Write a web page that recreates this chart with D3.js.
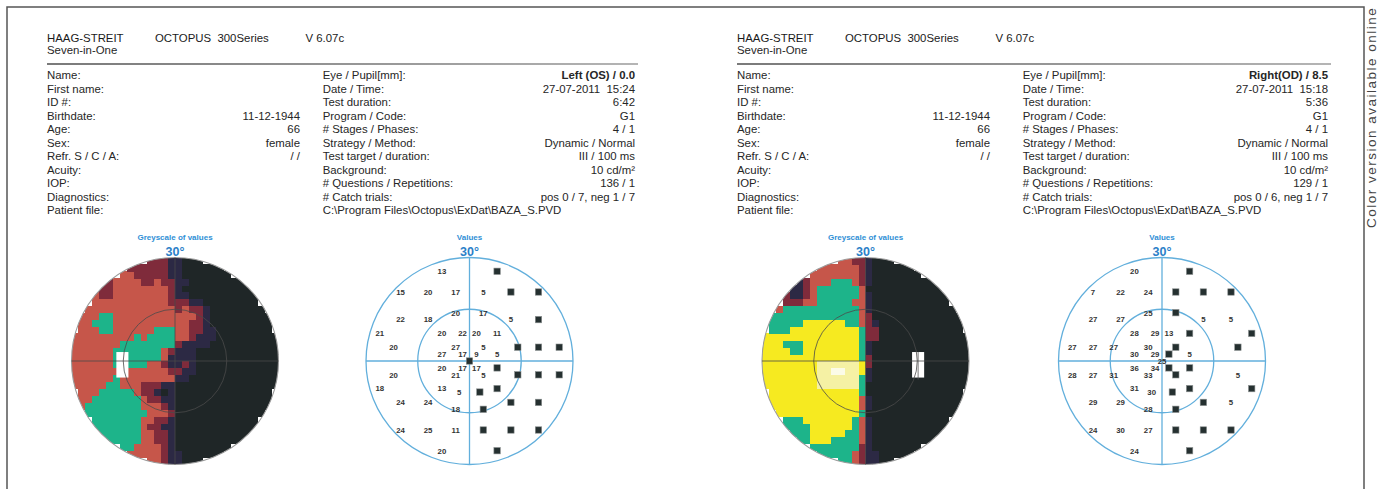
<!DOCTYPE html>
<html><head><meta charset="utf-8">
<script src="https://cdnjs.cloudflare.com/ajax/libs/d3/7.8.5/d3.min.js"></script>
<style>body{margin:0;background:#fff}svg{display:block;font-family:"Liberation Sans",Arial,sans-serif}</style>
</head><body><script>
// ---------- DATA ----------
const brandLines = ["HAAG-STREIT", "Seven-in-One"];
const deviceName = "OCTOPUS  300Series";
const versionName = "V 6.07c";
const patientLabels = ["Name:", "First name:", "ID #:", "Birthdate:", "Age:", "Sex:", "Refr. S / C / A:", "Acuity:", "IOP:", "Diagnostics:", "Patient file:"];
const patientValues = ["", "", "", "11-12-1944", "66", "female", "/ /", "", "", "", ""];
const testLabels = ["Eye / Pupil[mm]:", "Date / Time:", "Test duration:", "Program / Code:", "# Stages / Phases:", "Strategy / Method:", "Test target / duration:", "Background:", "# Questions / Repetitions:", "# Catch trials:"];
const testValuesOS = ["Left (OS) / 0.0", "27-07-2011  15:24", "6:42", "G1", "4 / 1", "Dynamic / Normal", "III / 100 ms", "10 cd/m²", "136 / 1", "pos 0 / 7, neg 1 / 7"];
const testValuesOD = ["Right(OD) / 8.5", "27-07-2011  15:18", "5:36", "G1", "4 / 1", "Dynamic / Normal", "III / 100 ms", "10 cd/m²", "129 / 1", "pos 0 / 6, neg 1 / 7"];
const patientFile = "C:\\Program Files\\Octopus\\ExDat\\BAZA_S.PVD";
const greyTitle = "Greyscale of values";
const valuesTitle = "Values";
const eccLabel = "30°";
const sideNote = "Color version available online";

// G1 test locations (degrees), left eye (OS); right eye is the mirror image
const pointX = [-8,8, -20,-12,-4,4,12,20, -4,4, -20,-12,12,20, -26,-8,-2,2,8, -22,-4,4,14,20,26, -8,-2,2,8, 0, -8,-2,2,8, -22,-4,4,14,20,26, -26,-8,8, -3,3, -20,-12,12,20, -4,4, -20,-12,-4,4,12,20, -8,8];
const pointY = [26,26, 20,20,20,20,20,20, 14,14, 12,12,12,12, 8,8,8,8,8, 4,4,4,4,4,4, 2,2,2,2, 0, -2,-2,-2,-2, -4,-4,-4,-4,-4,-4, -8,-8,-8, -9,-9, -12,-12,-12,-12, -14,-14, -20,-20,-20,-20,-20,-20, -26,-26];
// sensitivities in dB (0 = absolute defect, shown as a black square)
const valuesOS = [13,0, 15,20,17,5,0,0, 20,17, 22,18,5,0, 21,20,22,20,11, 20,27,5,0,0,0, 27,17,9,5, 0, 20,17,17,0, 20,21,5,0,0,0, 18,13,0, 5,0, 24,24,0,0, 18,0, 24,25,11,0,0,0, 20,0];
const valuesOD = [0,20, 0,0,0,24,22,7, 0,25, 5,5,27,27, 0,0,13,29,28, 0,0,30,27,27,27, 5,0,29,30, 25, 0,0,34,36, 5,0,33,31,27,28, 0,0,31, 0,30, 5,0,29,29, 0,28, 0,0,0,27,30,24, 0,24];
// blind spot box (degrees, OS)
const blindX = [-17, -13.5];
const blindY = [-4.8, 2.6];
// greyscale classes
const greyBreaks = [6, 11, 16, 21, 27, 31, 35];
const greyColors = ["#1f2627", "#2c2944", "#7f2b3b", "#c6564a", "#1db48a", "#f6ea20", "#f5f1a4", "#fbfbe8"];

// ---------- DRAW ----------
const W = 1378, H = 489;
const svg = d3.select("body").append("svg").attr("width", W).attr("height", H);
svg.append("rect").attr("width", W).attr("height", H).attr("fill", "#fff");

// frame
svg.append("path").attr("d", `M7,${H} V7 H1364 V${H}`).attr("fill", "none").attr("stroke", "#555").attr("stroke-width", 1.5);
svg.append("text").attr("transform", "translate(1375.5,228) rotate(-90)").attr("font-size", 13.5).attr("fill", "#444").attr("letter-spacing", 1.5).text(sideNote);

const colorScale = d3.scaleThreshold().domain(greyBreaks).range(greyColors);

const panels = [
  { eye: "OS", x0: 47, c2: 322.7, c2r: 635, v1r: 300, gcx: 175, vcx: 469.5, tv: testValuesOS, vals: valuesOS, mirror: 1 },
  { eye: "OD", x0: 737, c2: 1022.7, c2r: 1328, v1r: 990, gcx: 865.5, vcx: 1162, tv: testValuesOD, vals: valuesOD, mirror: -1 }
];
const rowY = d3.scaleLinear().domain([0, 1]).range([79, 79 + 13.53]);
const R = 103.5, CY = 361;

panels.forEach((p, pi) => {
  const g = svg.append("g");
  const txt = (x, y, s, opt = {}) => g.append("text").attr("x", x).attr("y", y).attr("font-size", opt.fs || 11.4)
    .attr("fill", opt.fill || "#262626").attr("font-weight", opt.fw || "normal").attr("text-anchor", opt.anchor || "start").text(s);
  txt(p.x0, 41.7, brandLines[0], { fill: "#1a1a1a" });
  txt(p.x0, 53.5, brandLines[1]);
  txt(p.x0 + 108, 41.7, deviceName, { fill: "#1a1a1a" }).style("white-space", "pre");
  txt(p.x0 + 258.5, 41.7, versionName, { fill: "#1a1a1a" });
  // rule
  const grad = svg.append("defs").append("linearGradient").attr("id", "rg" + pi);
  grad.append("stop").attr("offset", "0").attr("stop-color", "#7a7a7a");
  grad.append("stop").attr("offset", "0.6").attr("stop-color", "#9a9a9a");
  grad.append("stop").attr("offset", "1").attr("stop-color", "#b5b5b5");
  g.append("rect").attr("x", p.x0).attr("y", 63).attr("width", p.c2r + 3 - p.x0).attr("height", 2).attr("fill", `url(#rg${pi})`);

  patientLabels.forEach((l, i) => txt(p.x0, rowY(i), l));
  patientValues.forEach((v, i) => { if (v) txt(p.v1r, rowY(i), v, { anchor: "end" }); });
  testLabels.forEach((l, i) => txt(p.c2, rowY(i), l));
  p.tv.forEach((v, i) => txt(p.c2r, rowY(i), v, { anchor: "end", fw: i === 0 ? "bold" : "normal" }).style("white-space", "pre"));
  txt(p.c2, rowY(10), patientFile);

  const px = (d) => p.mirror * d; // mirror x for right eye
  const pts = pointX.map((x, i) => ({ x: px(x), y: pointY[i], v: p.vals[i] }));

  // ---------- greyscale ----------
  const gx = d3.scaleLinear().domain([-30, 30]).range([p.gcx - R, p.gcx + R]);
  const gy = d3.scaleLinear().domain([-30, 30]).range([CY + R, CY - R]);
  const gg = svg.append("g");
  gg.append("text").attr("x", p.gcx).attr("y", 240).attr("text-anchor", "middle").attr("font-size", 8).attr("font-weight", "bold").attr("fill", "#2f8fd6").text(greyTitle);
  gg.append("text").attr("x", p.gcx).attr("y", 255.5).attr("text-anchor", "middle").attr("font-size", 12.5).attr("font-weight", "bold").attr("fill", "#2b80c8").text(eccLabel);
  const clipId = "gclip" + pi;
  svg.append("defs").append("clipPath").attr("id", clipId).append("circle").attr("cx", p.gcx).attr("cy", CY).attr("r", R);
  const cells = [];
  for (let a = -30; a < 30; a += 2) for (let b = -30; b < 30; b += 2) {
    const cx = a + 1, cy = b + 1;
    if (Math.hypot(cx, cy) > 30) continue;
    const near = pts.map(q => ({ d: Math.max(0.3, Math.hypot(q.x - cx, q.y - cy)), v: q.v }))
      .sort((u, v) => u.d - v.d).slice(0, 4);
    let ws = 0, s = 0;
    near.forEach(n => { const w = 1 / (n.d * n.d); ws += w; s += w * n.v; });
    cells.push({ a, b, v: s / ws });
  }
  const cg = gg.append("g").attr("clip-path", `url(#${clipId})`).attr("shape-rendering", "crispEdges");
  cg.selectAll("rect").data(cells).join("rect")
    .attr("x", d => gx(d.a)).attr("y", d => gy(d.b + 2))
    .attr("width", d => gx(d.a + 2) - gx(d.a) + 0.4).attr("height", d => gy(d.b) - gy(d.b + 2) + 0.4)
    .attr("fill", d => colorScale(d.v));
  // blind spot
  const bx = blindX.map(px).sort((u, v) => u - v);
  gg.append("rect").attr("x", gx(bx[0])).attr("y", gy(blindY[1])).attr("width", gx(bx[1]) - gx(bx[0])).attr("height", gy(blindY[0]) - gy(blindY[1])).attr("fill", "#fff");
  if (p.mirror < 0) gg.append("line").attr("x1", gx((bx[0] + bx[1]) / 2)).attr("x2", gx((bx[0] + bx[1]) / 2)).attr("y1", gy(blindY[1])).attr("y2", gy(blindY[0]) + 2).attr("stroke", "#555").attr("stroke-width", 0.8);
  gg.append("circle").attr("cx", p.gcx).attr("cy", CY).attr("r", R).attr("fill", "none").attr("stroke", "#9a9a9a").attr("stroke-width", 1.1);
  gg.append("circle").attr("cx", p.gcx).attr("cy", CY).attr("r", gx(15) - gx(0)).attr("fill", "none").attr("stroke", "#4a4a4a").attr("stroke-width", 0.8);
  gg.append("line").attr("x1", gx(-30)).attr("x2", gx(30)).attr("y1", gy(0)).attr("y2", gy(0)).attr("stroke", "#4a4a4a").attr("stroke-width", 0.8);
  gg.append("line").attr("x1", gx(0)).attr("x2", gx(0)).attr("y1", gy(30)).attr("y2", gy(-30)).attr("stroke", "#4a4a4a").attr("stroke-width", 0.8);

  // ---------- values ----------
  const vx = d3.scaleLinear().domain([-30, 30]).range([p.vcx - R, p.vcx + R]);
  const vy = gy;
  const vg = svg.append("g");
  vg.append("text").attr("x", p.vcx).attr("y", 240).attr("text-anchor", "middle").attr("font-size", 8).attr("font-weight", "bold").attr("fill", "#2f8fd6").text(valuesTitle);
  vg.append("text").attr("x", p.vcx).attr("y", 255.5).attr("text-anchor", "middle").attr("font-size", 12.5).attr("font-weight", "bold").attr("fill", "#2b80c8").text(eccLabel);
  const blue = "#62afdc";
  vg.append("circle").attr("cx", p.vcx).attr("cy", CY).attr("r", R).attr("fill", "none").attr("stroke", blue).attr("stroke-width", 1.3);
  vg.append("circle").attr("cx", p.vcx).attr("cy", CY).attr("r", vx(15) - vx(0)).attr("fill", "none").attr("stroke", blue).attr("stroke-width", 1.3);
  vg.append("line").attr("x1", vx(-30)).attr("x2", vx(30)).attr("y1", vy(0)).attr("y2", vy(0)).attr("stroke", blue).attr("stroke-width", 1.3);
  vg.append("line").attr("x1", vx(0)).attr("x2", vx(0)).attr("y1", vy(30)).attr("y2", vy(-30)).attr("stroke", blue).attr("stroke-width", 1.3);
  vg.selectAll("rect.sq").data(pts.filter(d => d.v === 0)).join("rect").attr("class", "sq")
    .attr("x", d => vx(d.x) - 3.2).attr("y", d => vy(d.y) - 3.2).attr("width", 6.4).attr("height", 6.4)
    .attr("fill", "#253030").attr("stroke", "#8a9090").attr("stroke-width", 0.6);
  vg.selectAll("text.val").data(pts.filter(d => d.v !== 0)).join("text").attr("class", "val")
    .attr("x", d => vx(d.x)).attr("y", d => vy(d.y) + 2.8).attr("text-anchor", "middle")
    .attr("font-size", 7.8).attr("font-weight", "bold").attr("fill", "#333").text(d => d.v);
});
</script></body></html>
